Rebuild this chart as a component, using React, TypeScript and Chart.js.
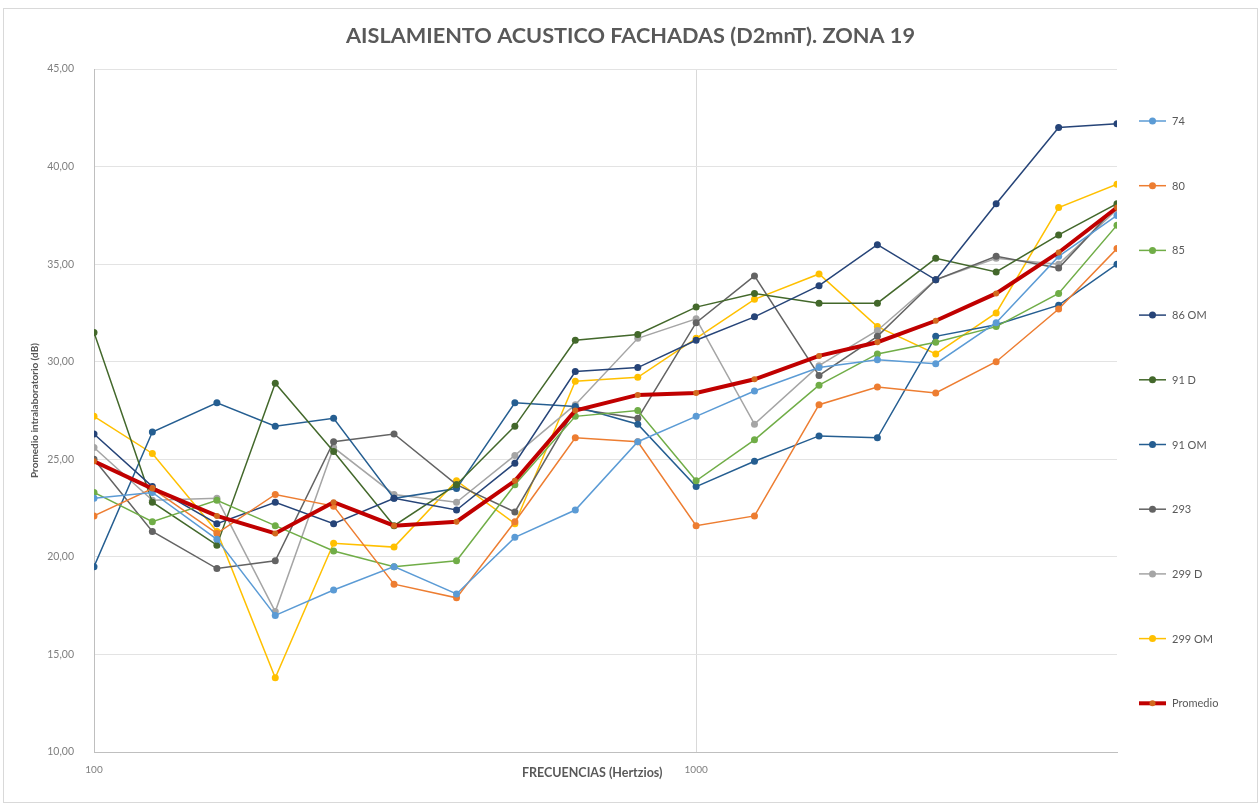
import React, { useEffect, useRef } from "react";
import { Chart, registerables } from "chart.js";

Chart.register(...registerables);

// ---------- DATA ----------
const frequencies = [100, 125, 160, 200, 250, 315, 400, 500, 630, 800, 1000, 1250, 1600, 2000, 2500, 3150, 4000, 5000];

const s74 = [23.0, 23.3, 20.9, 17.0, 18.3, 19.5, 18.1, 21.0, 22.4, 25.9, 27.2, 28.5, 29.7, 30.1, 29.9, 32.0, 35.4, 37.5];
const s80 = [22.1, 23.5, 21.2, 23.2, 22.6, 18.6, 17.9, 21.8, 26.1, 25.9, 21.6, 22.1, 27.8, 28.7, 28.4, 30.0, 32.7, 35.8];
const s85 = [23.3, 21.8, 22.9, 21.6, 20.3, 19.5, 19.8, 23.7, 27.2, 27.5, 23.9, 26.0, 28.8, 30.4, 31.0, 31.8, 33.5, 37.0];
const s86OM = [26.3, 23.6, 21.7, 22.8, 21.7, 23.0, 22.4, 24.8, 29.5, 29.7, 31.1, 32.3, 33.9, 36.0, 34.2, 38.1, 42.0, 42.2];
const s91D = [31.5, 22.8, 20.6, 28.9, 25.4, 21.6, 23.7, 26.7, 31.1, 31.4, 32.8, 33.5, 33.0, 33.0, 35.3, 34.6, 36.5, 38.1];
const s91OM = [19.5, 26.4, 27.9, 26.7, 27.1, 23.0, 23.5, 27.9, 27.7, 26.8, 23.6, 24.9, 26.2, 26.1, 31.3, 31.9, 32.9, 35.0];
const s293 = [25.0, 21.3, 19.4, 19.8, 25.9, 26.3, 23.7, 22.3, 27.6, 27.1, 32.0, 34.4, 29.3, 31.3, 34.2, 35.4, 34.8, 38.0];
const s299D = [25.6, 22.9, 23.0, 17.2, 25.6, 23.2, 22.8, 25.2, 27.8, 31.2, 32.2, 26.8, 29.8, 31.6, 34.2, 35.3, 35.0, 37.8];
const s299OM = [27.2, 25.3, 21.3, 13.8, 20.7, 20.5, 23.9, 21.7, 29.0, 29.2, 31.2, 33.2, 34.5, 31.8, 30.4, 32.5, 37.9, 39.1];
const sPromedio = [24.9, 23.5, 22.1, 21.2, 22.8, 21.6, 21.8, 23.9, 27.5, 28.3, 28.4, 29.1, 30.3, 31.0, 32.1, 33.5, 35.6, 37.9];

const seriesNames = ["74", "80", "85", "86 OM", "91 D", "91 OM", "293", "299 D", "299 OM", "Promedio"];
const seriesValues = [s74, s80, s85, s86OM, s91D, s91OM, s293, s299D, s299OM, sPromedio];
const seriesColors = ["#5B9BD5", "#ED7D31", "#70AD47", "#264478", "#43682B", "#255E91", "#636363", "#A5A5A5", "#FFC000", "#C00000"];

const xTickValues = [100, 1000];
const yMin = 10;
const yMax = 45;
const yStep = 5;

const titleText = "AISLAMIENTO ACUSTICO FACHADAS (D2mnT). ZONA 19";
const xTitle = "FRECUENCIAS (Hertzios)";
const yTitle = "Promedio intralaboratorio (dB)";

const FONT = "Lato, 'Open Sans', sans-serif";
const TEXT = "#595959";
const TICK = "#7F7F7F";

export default function App() {
  const ref = useRef<HTMLCanvasElement | null>(null);

  useEffect(() => {
    const canvas = ref.current;
    if (!canvas) return;

    const lastIdx = seriesNames.length - 1;
    const datasets = seriesNames.map((name, i) => {
      const isAvg = i === lastIdx;
      return {
        label: name,
        data: seriesValues[i].map((v, k) => ({ x: frequencies[k], y: v })),
        yAxisID: "y",
        borderColor: seriesColors[i],
        backgroundColor: isAvg ? "#C55A11" : seriesColors[i],
        pointBackgroundColor: isAvg ? "#D2691E" : seriesColors[i],
        pointBorderColor: isAvg ? "#D2691E" : seriesColors[i],
        borderWidth: isAvg ? 4 : 1.5,
        pointRadius: isAvg ? 3 : 3.5,
        pointBorderWidth: 0,
        tension: 0,
        order: isAvg ? -1 : i,
      };
    });

    const extras = {
      id: "extras",
      afterDraw(chart: any) {
        const c = chart.ctx as CanvasRenderingContext2D;
        const area = chart.chartArea;
        // x-axis title
        c.save();
        c.font = `bold 12.5px ${FONT}`;
        c.fillStyle = TEXT;
        c.textAlign = "center";
        c.textBaseline = "middle";
        c.fillText(xTitle, area.left + (area.right - area.left) * 0.487, area.bottom + 21);
        c.restore();

        // side legend
        const x0 = area.right + 22;
        const x1 = x0 + 27;
        const mx = (x0 + x1) / 2;
        const top = 112;
        const step = 64.7;
        c.save();
        c.font = `11px ${FONT}`;
        c.textBaseline = "middle";
        c.textAlign = "left";
        seriesNames.forEach((name, i) => {
          const y = top + i * step;
          const isAvg = i === lastIdx;
          c.strokeStyle = seriesColors[i];
          c.lineWidth = isAvg ? 4 : 1.5;
          c.beginPath();
          c.moveTo(x0, y);
          c.lineTo(x1, y);
          c.stroke();
          c.fillStyle = isAvg ? "#D2691E" : seriesColors[i];
          c.beginPath();
          c.arc(mx, y, isAvg ? 3 : 3.5, 0, Math.PI * 2);
          c.fill();
          c.fillStyle = TEXT;
          c.fillText(name, x1 + 6, y + 0.5);
        });
        c.restore();
      },
    };

    const chart = new Chart(canvas, {
      type: "line",
      data: { datasets: datasets as any },
      options: {
        animation: false,
        responsive: false,
        devicePixelRatio: 1,
        layout: { padding: 0 },
        plugins: {
          legend: { display: false },
          tooltip: { enabled: false },
          title: {
            display: true,
            text: titleText,
            color: TEXT,
            font: { family: FONT, size: 21.7, weight: "bold" },
            padding: { top: 14, bottom: 20 },
          },
        },
        scales: {
          x: {
            type: "logarithmic",
            min: 100,
            max: 5000,
            afterBuildTicks: (scale: any) => {
              scale.ticks = xTickValues.map((v) => ({ value: v }));
            },
            afterFit: (scale: any) => {
              scale.height = 50;
            },
            ticks: {
              autoSkip: false,
              maxRotation: 0,
              padding: 12,
              color: TICK,
              font: { family: FONT, size: 10 },
              callback: (v: any) => String(v),
            },
            grid: { color: "#D9D9D9", drawTicks: false, lineWidth: 1 },
            border: { display: true, color: "#BFBFBF" },
            title: { display: false },
          },
          y: {
            min: yMin,
            max: yMax,
            afterFit: (scale: any) => {
              scale.width = 90;
            },
            ticks: {
              stepSize: yStep,
              padding: 20,
              color: TICK,
              font: { family: FONT, size: 10.5 },
              callback: (v: any) => Number(v).toFixed(2).replace(".", ","),
            },
            grid: { color: "#E3E3E3", drawTicks: false, lineWidth: 1 },
            border: { display: true, color: "#BFBFBF" },
            title: {
              display: true,
              text: yTitle,
              color: TEXT,
              font: { family: FONT, size: 10, weight: "bold" },
              padding: { top: 25, bottom: 0 },
            },
          },
          yRight: {
            position: "right",
            display: true,
            min: 0,
            max: 1,
            grid: { display: false, drawTicks: false },
            ticks: { display: false },
            border: { display: false },
            afterFit: (scale: any) => {
              scale.width = 140;
            },
          },
        },
      },
      plugins: [extras],
    });

    return () => chart.destroy();
  }, []);

  return (
    <div
      style={{
        position: "absolute",
        left: 3,
        top: 8,
        width: 1253,
        height: 793,
        border: "1px solid #D9D9D9",
        background: "#ffffff",
      }}
    >
      <canvas ref={ref} width={1253} height={793} style={{ display: "block", width: 1253, height: 793 }} />
    </div>
  );
}
